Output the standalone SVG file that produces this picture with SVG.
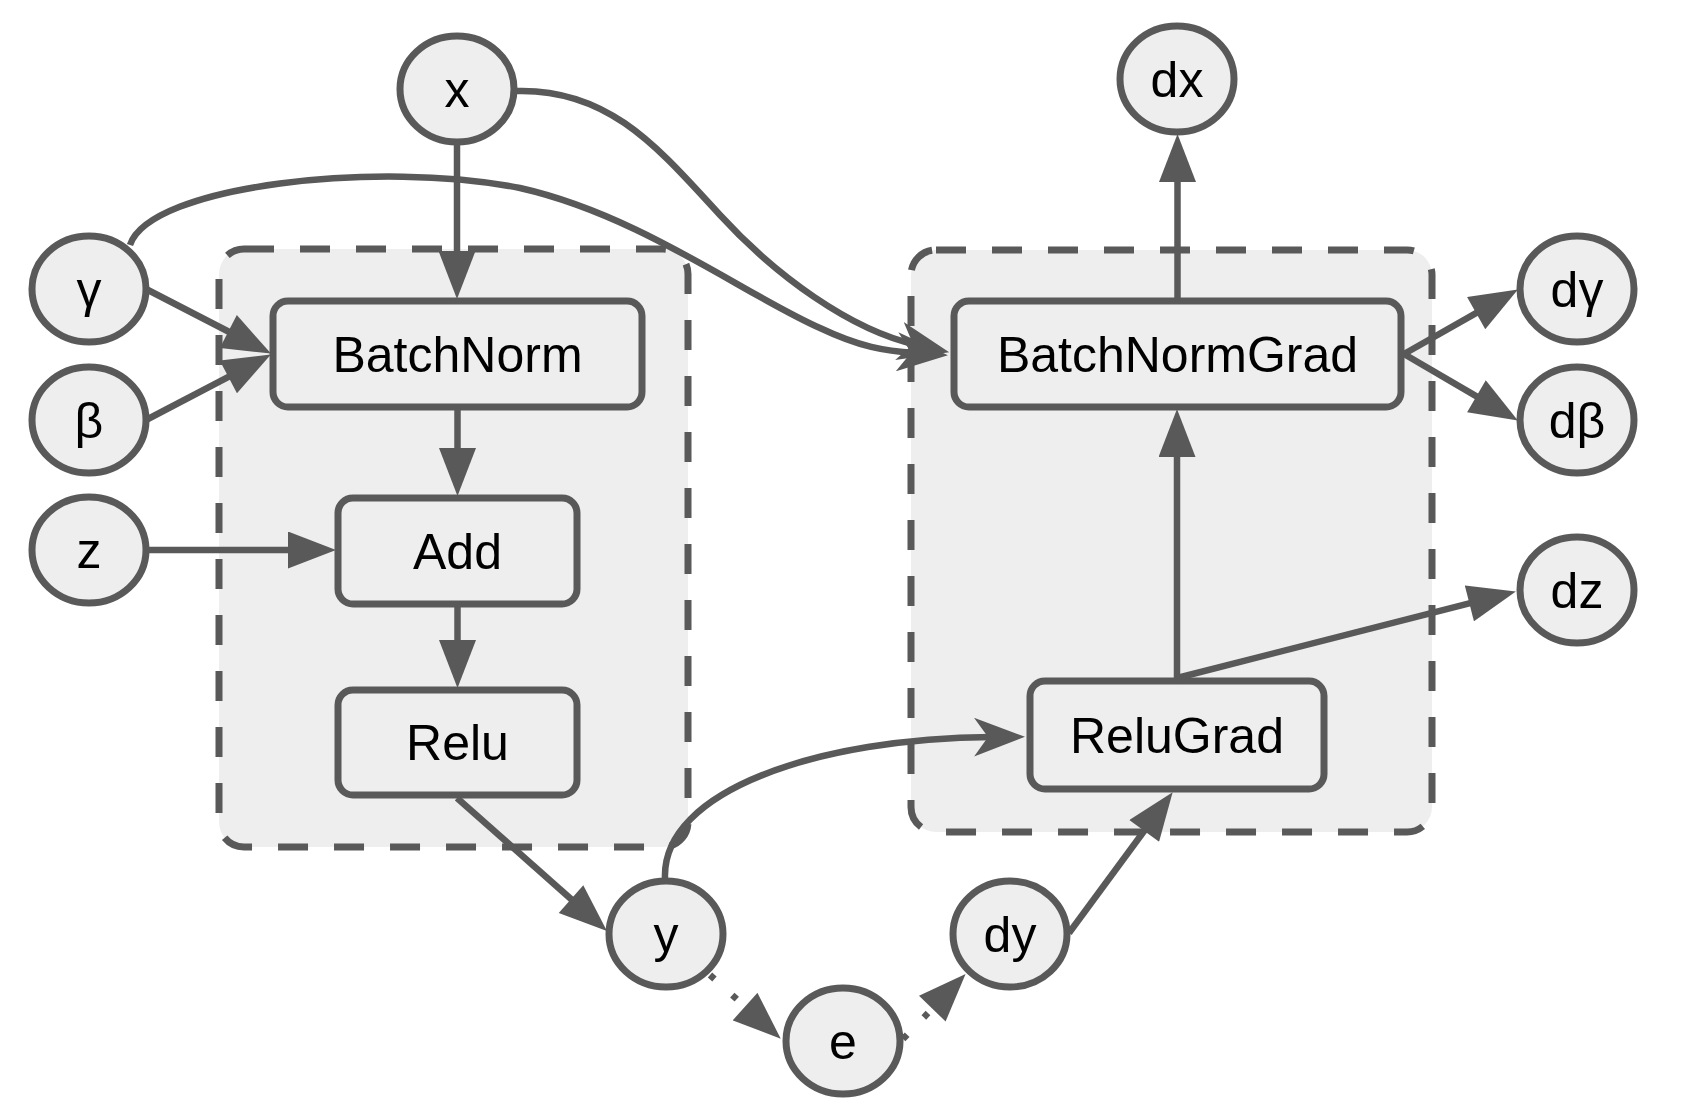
<svg xmlns="http://www.w3.org/2000/svg" width="1685" height="1120" viewBox="0 0 1685 1120">
<style>
.cluster{fill:#eeeeee;stroke:#595959;stroke-width:7;stroke-dasharray:30 26}
.node{fill:#eeeeee;stroke:#595959;stroke-width:7}
.lbl{font-family:"Liberation Sans",Arial,sans-serif;font-size:50px;fill:#000;text-anchor:middle}
.edge{fill:none;stroke:#595959;stroke-width:6.5}
.dot{stroke-dasharray:6 24}
</style>
<defs>
<marker id="tri" markerUnits="userSpaceOnUse" markerWidth="49" markerHeight="37" viewBox="0 0 48 37" refX="12" refY="18.5" orient="auto">
<path d="M0,0 L48,18.5 L0,37 z" fill="#595959"/>
</marker>
<marker id="vee" markerUnits="userSpaceOnUse" markerWidth="51" markerHeight="39" viewBox="0 0 51 39" refX="18" refY="19.5" orient="auto">
<path d="M0,0 L51,19.5 L0,39 L14,19.5 z" fill="#595959"/>
</marker>
</defs>
<rect id="forward" class="cluster" x="219" y="249" width="469" height="598" rx="25"/>
<rect id="backward" class="cluster" x="911" y="250" width="521" height="582" rx="25"/>
<g id="n-x"><ellipse class="node" cx="457" cy="89" rx="57" ry="53"/><text class="lbl" x="457" y="107">x</text></g>
<g id="n-gamma"><ellipse class="node" cx="89" cy="289" rx="57" ry="53"/><text class="lbl" x="89" y="307">γ</text></g>
<g id="n-beta"><ellipse class="node" cx="89" cy="420" rx="57" ry="53"/><text class="lbl" x="89" y="438">β</text></g>
<g id="n-z"><ellipse class="node" cx="89" cy="550" rx="57" ry="53"/><text class="lbl" x="89" y="568">z</text></g>
<g id="n-dx"><ellipse class="node" cx="1177" cy="79" rx="57" ry="53"/><text class="lbl" x="1177" y="97">dx</text></g>
<g id="n-dgamma"><ellipse class="node" cx="1577" cy="289" rx="57" ry="53"/><text class="lbl" x="1577" y="307">dγ</text></g>
<g id="n-dbeta"><ellipse class="node" cx="1577" cy="420" rx="57" ry="53"/><text class="lbl" x="1577" y="438">dβ</text></g>
<g id="n-dz"><ellipse class="node" cx="1577" cy="590" rx="57" ry="53"/><text class="lbl" x="1577" y="608">dz</text></g>
<g id="n-y"><ellipse class="node" cx="666" cy="934" rx="57" ry="53"/><text class="lbl" x="666" y="952">y</text></g>
<g id="n-e"><ellipse class="node" cx="843" cy="1041" rx="57" ry="53"/><text class="lbl" x="843" y="1059">e</text></g>
<g id="n-dy"><ellipse class="node" cx="1010" cy="934" rx="57" ry="53"/><text class="lbl" x="1010" y="952">dy</text></g>
<g id="n-batchnorm"><rect class="node" x="273" y="301" width="369" height="106" rx="15"/><text class="lbl" x="457.5" y="372">BatchNorm</text></g>
<g id="n-add"><rect class="node" x="338" y="498" width="239" height="106" rx="15"/><text class="lbl" x="457.5" y="569">Add</text></g>
<g id="n-relu"><rect class="node" x="338" y="690" width="239" height="105" rx="15"/><text class="lbl" x="457.5" y="760">Relu</text></g>
<g id="n-batchnormgrad"><rect class="node" x="954" y="301" width="447" height="106" rx="15"/><text class="lbl" x="1177.5" y="372">BatchNormGrad</text></g>
<g id="n-relugrad"><rect class="node" x="1030" y="681" width="294" height="108" rx="15"/><text class="lbl" x="1177" y="753">ReluGrad</text></g>
<g id="connectors">
<path class="edge" d="M457,142 L457,263" marker-end="url(#tri)"/>
<path class="edge" d="M457.5,410 L457.5,460" marker-end="url(#tri)"/>
<path class="edge" d="M457.5,607 L457.5,652" marker-end="url(#tri)"/>
<path class="edge" d="M146,550 L300,550" marker-end="url(#tri)"/>
<path class="edge" d="M146,289 L239,337" marker-end="url(#tri)"/>
<path class="edge" d="M146,420 L239,371.3" marker-end="url(#tri)"/>
<path class="edge" d="M457,798 L580,907" marker-end="url(#tri)"/>
<path class="edge" d="M1177.5,298 L1177.5,170" marker-end="url(#tri)"/>
<path class="edge" d="M1404,354 L1486.6,307.2" marker-end="url(#tri)"/>
<path class="edge" d="M1404,354 L1486.8,402.4" marker-end="url(#tri)"/>
<path class="edge" d="M1177,678 L1177,445" marker-end="url(#tri)"/>
<path class="edge" d="M1177,678 L1481,600.4" marker-end="url(#tri)"/>
<path class="edge" d="M1069,933 L1151.3,821.2" marker-end="url(#tri)"/>
<path class="edge dot" d="M710,975 L754,1014.6" marker-end="url(#tri)"/>
<path class="edge dot" d="M903,1039 L940.6,1000" marker-end="url(#tri)"/>
<path class="edge" d="M665,878 C662,790 820,738 992,737" marker-end="url(#vee)"/>
<path class="edge" d="M516,91 C610,88 660,150 720,215 C775,275 850,330 917,345" marker-end="url(#vee)"/>
<path class="edge" d="M130,245 C150,185 380,160 520,188 C640,215 745,295 820,328 C860,347 885,351 915,353" marker-end="url(#vee)"/>
</g>
</svg>
